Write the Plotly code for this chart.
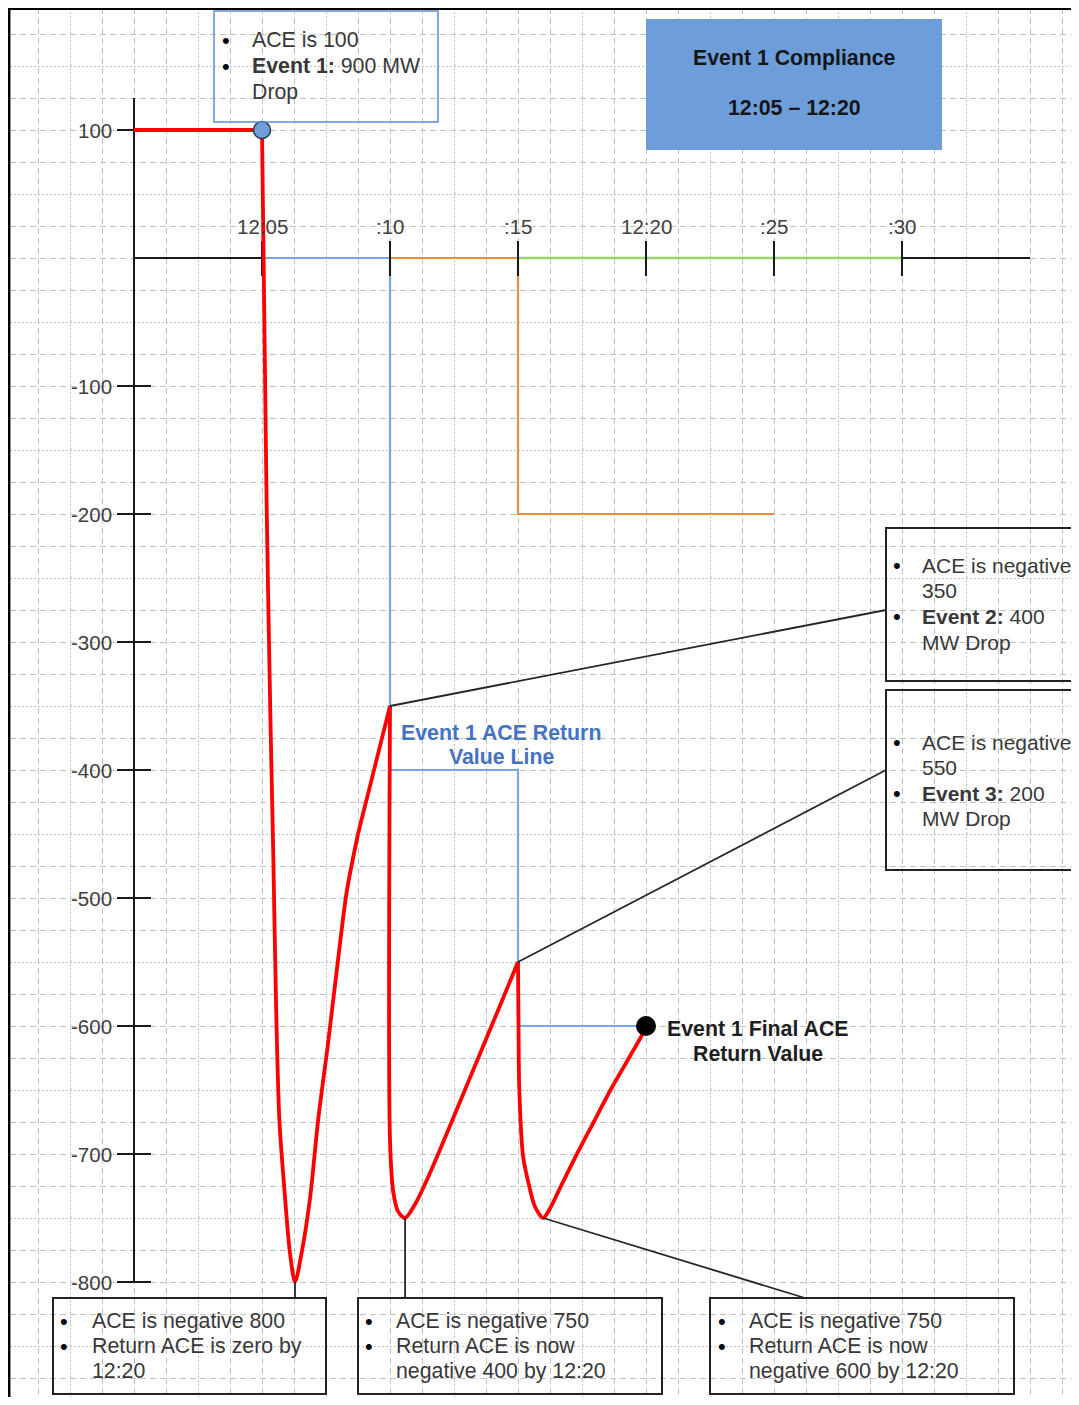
import plotly.graph_objects as go

# ---------------- data (minutes after 12:00, ACE in MW) ----------------
tick_minutes = [5, 10, 15, 20, 25, 30]
tick_labels = ["12:05", ":10", ":15", "12:20", ":25", ":30"]
y_tick_values = [100, -100, -200, -300, -400, -500, -600, -700, -800]

ace_flat_t = [0, 5]
ace_flat_v = [100, 100]

ace_dip1_t = [5.0, 5.18, 5.33, 5.44, 5.55, 5.68, 5.90, 6.09, 6.29, 6.55, 6.88, 7.19, 7.57, 7.93, 8.31, 8.75]
ace_dip1_v = [100, -191, -361, -465, -584, -674, -734, -777, -800, -777, -734, -674, -615, -555, -495, -450]

ace_kink_t = [8.75, 10]
ace_kink_v = [-450, -350]

ace_dip2_t = [10.0, 10.0, 10.13, 10.32, 10.59, 11.04, 11.69, 12.28, 12.80, 13.32, 13.84, 14.36, 15.0]
ace_dip2_v = [-350, -689, -730, -745, -750, -737, -709, -681, -656, -631, -606, -581, -550]

ace_dip3_t = [15.0, 15.02, 15.05, 15.20, 15.46, 15.66, 15.98, 16.24, 16.63, 17.25, 17.93, 18.64, 19.82, 20.0]
ace_dip3_v = [-550, -600, -649, -702, -727, -741, -750, -743, -727, -702, -676, -649, -608, -600]

return_line_t = [5, 10, 10, 15, 15, 20]
return_line_v = [0, 0, -400, -400, -600, -600]

event2_line_t = [10, 15, 15, 25]
event2_line_v = [0, 0, -200, -200]

event3_line_t = [15, 30]
event3_line_v = [0, 0]

axis_x_t = [0, 35]
axis_y_v = [125, -800]

# ---------------- geometry helpers ----------------
# the page body adds an 8px offset; all reference pixel positions are shifted by it
OFF = 8
W, H = 1079 - OFF, 1405 - 2 * OFF
ML, MT = 2, 0
X0PX, PXPERMIN = 134, 25.6
Y0PX, PXPERUNIT = 258, 1.28


def X(px):
    return (px - X0PX) / PXPERMIN


def Y(py):
    return (Y0PX - py) / PXPERUNIT


def PX(px):
    return (px - OFF - ML) / (W - ML)


def PY(py):
    return (H - (py - OFF)) / (H - MT)


FONT = "Liberation Sans, Arial, sans-serif"
TXT = "#383838"

fig = go.Figure()

# axis lines
fig.add_trace(go.Scatter(x=axis_x_t, y=[0, 0], mode="lines",
                         line=dict(color="#1a1a1a", width=2), hoverinfo="skip"))
fig.add_trace(go.Scatter(x=[0, 0], y=axis_y_v, mode="lines",
                         line=dict(color="#1a1a1a", width=2), hoverinfo="skip"))

# coloured compliance lines
fig.add_trace(go.Scatter(x=event3_line_t, y=event3_line_v, mode="lines",
                         line=dict(color="#9bd46a", width=2.5), hoverinfo="skip"))
fig.add_trace(go.Scatter(x=event2_line_t, y=event2_line_v, mode="lines",
                         line=dict(color="#ec8a42", width=2.2), hoverinfo="skip"))
fig.add_trace(go.Scatter(x=return_line_t, y=return_line_v, mode="lines",
                         line=dict(color="#7ba6e0", width=2.2), hoverinfo="skip"))

# tick marks
xt_x, xt_y = [], []
for m in tick_minutes:
    xt_x += [m, m, None]
    xt_y += [Y(241), Y(276), None]
fig.add_trace(go.Scatter(x=xt_x, y=xt_y, mode="lines",
                         line=dict(color="#1a1a1a", width=2), hoverinfo="skip"))
yt_x, yt_y = [], []
for v in y_tick_values:
    yt_x += [X(117), X(151), None]
    yt_y += [v, v, None]
fig.add_trace(go.Scatter(x=yt_x, y=yt_y, mode="lines",
                         line=dict(color="#1a1a1a", width=2), hoverinfo="skip"))

# ACE curve
red = dict(color="#ff0000", width=3.8)
fig.add_trace(go.Scatter(x=ace_flat_t, y=ace_flat_v, mode="lines", line=red, hoverinfo="skip"))
for tt, vv in [(ace_dip1_t, ace_dip1_v), (ace_dip2_t, ace_dip2_v), (ace_dip3_t, ace_dip3_v)]:
    fig.add_trace(go.Scatter(x=tt, y=vv, mode="lines",
                             line=dict(color="#ff0000", width=3.8, shape="spline", smoothing=0.8),
                             hoverinfo="skip"))
fig.add_trace(go.Scatter(x=ace_kink_t, y=ace_kink_v, mode="lines", line=red, hoverinfo="skip"))

# markers
fig.add_trace(go.Scatter(x=[ace_flat_t[-1]], y=[ace_flat_v[-1]], mode="markers",
                         marker=dict(size=17, color="#6f9ed9", line=dict(color="#2d3a55", width=1.5)),
                         hoverinfo="skip"))
fig.add_trace(go.Scatter(x=[ace_dip3_t[-1]], y=[ace_dip3_v[-1]], mode="markers",
                         marker=dict(size=20, color="#000000"), hoverinfo="skip"))

shapes = []
annotations = []

# frame
shapes.append(dict(type="line", xref="paper", yref="paper", x0=PX(9.2), x1=PX(9.2), y0=PY(8), y1=PY(1405),
                   line=dict(color="#000000", width=2.5)))
shapes.append(dict(type="line", xref="paper", yref="paper", x0=PX(8), x1=PX(1079), y0=PY(9), y1=PY(9),
                   line=dict(color="#000000", width=2.2)))

# boxes
def rect(x0, y0, x1, y1, color="#222222", width=2, fill=None):
    shapes.append(dict(type="rect", xref="x", yref="y", x0=X(x0), x1=X(x1), y0=Y(y0), y1=Y(y1),
                       line=dict(color=color, width=width),
                       fillcolor=fill if fill else "rgba(0,0,0,0)", layer="above"))

rect(214, 11, 438, 122, color="#5b8dd6", width=1.5)
rect(646, 19, 942, 150, color="#6d9eda", width=0, fill="#6d9eda")
rect(886, 528, 1100, 681)
rect(886, 690, 1100, 870)
rect(53, 1298, 326, 1394)
rect(358, 1298, 662, 1394)
rect(710, 1298, 1014, 1394)

# callout lines
def cline(x0, y0, x1, y1):
    shapes.append(dict(type="line", xref="x", yref="y", x0=x0, y0=y0, x1=x1, y1=y1,
                       line=dict(color="#262626", width=1.8), layer="above"))

cline(ace_kink_t[-1], ace_kink_v[-1], X(886), Y(610))
cline(ace_dip2_t[-1], ace_dip2_v[-1], X(886), Y(770))
i3 = ace_dip3_v.index(min(ace_dip3_v))
cline(ace_dip3_t[i3], ace_dip3_v[i3], X(805), Y(1298))
i2 = ace_dip2_v.index(min(ace_dip2_v))
cline(ace_dip2_t[i2], ace_dip2_v[i2], ace_dip2_t[i2], Y(1298))
i1 = ace_dip1_v.index(min(ace_dip1_v))
cline(ace_dip1_t[i1], ace_dip1_v[i1], ace_dip1_t[i1], Y(1298))


def text(px, py, s, size=21.3, color=TXT, anchor="left"):
    if anchor == "left":
        px -= 2
    annotations.append(dict(x=X(px), y=Y(py), xref="x", yref="y", text=s, showarrow=False,
                            xanchor=anchor, yanchor="middle",
                            font=dict(family=FONT, size=size, color=color)))


def bullets(bx, tx, lines, size=21.3):
    for py, s, b in lines:
        if b:
            text(bx, py, "•", size=22, color="#000000", anchor="center")
        text(tx, py, s, size=size)


bullets(226, 252, [(40, "ACE is 100", True),
                   (66, "<b>Event 1:</b> 900 MW", True),
                   (92, "Drop", False)])
bullets(897, 922, [(565, "ACE is negative", True),
                   (590, "350", False),
                   (616, "<b>Event 2:</b> 400", True),
                   (642, "MW Drop", False)], size=21)
bullets(897, 922, [(742, "ACE is negative", True),
                   (767, "550", False),
                   (793, "<b>Event 3:</b> 200", True),
                   (818, "MW Drop", False)], size=21)
bullets(64, 92, [(1321, "ACE is negative 800", True),
                 (1346, "Return ACE is zero by", True),
                 (1371, "12:20", False)])
bullets(369, 396, [(1321, "ACE is negative 750", True),
                   (1346, "Return ACE is now", True),
                   (1371, "negative 400 by 12:20", False)])
bullets(722, 749, [(1321, "ACE is negative 750", True),
                   (1346, "Return ACE is now", True),
                   (1371, "negative 600 by 12:20", False)])

BOLD = 21.3
text(794, 58, "<b>Event 1 Compliance</b>", size=BOLD, color="#161616", anchor="center")
text(794, 108, "<b>12:05 – 12:20</b>", size=BOLD, color="#161616", anchor="center")
text(501, 733, "<b>Event 1 ACE Return</b>", size=BOLD, color="#4472c4", anchor="center")
text(501, 757, "<b>Value Line</b>", size=BOLD, color="#4472c4", anchor="center")
text(757, 1029, "<b>Event 1 Final ACE</b>", size=BOLD, color="#1e1e1e", anchor="center")
text(758, 1054, "<b>Return Value</b>", size=BOLD, color="#1e1e1e", anchor="center")

# axis tick labels
for m, lab in zip(tick_minutes, tick_labels):
    annotations.append(dict(x=m, y=Y(226), xref="x", yref="y", text=lab, showarrow=False,
                            xanchor="center", yanchor="middle",
                            font=dict(family=FONT, size=20.5, color="#404040")))
for v in y_tick_values:
    annotations.append(dict(x=X(114), y=v, xref="x", yref="y", text=str(v), showarrow=False,
                            xanchor="right", yanchor="middle",
                            font=dict(family=FONT, size=20.5, color="#404040")))

GRID = "#c2c2c2"
fig.update_layout(
    width=W, height=H,
    margin=dict(l=ML, r=0, t=MT, b=0, pad=0),
    paper_bgcolor="white", plot_bgcolor="white",
    showlegend=False,
    shapes=shapes, annotations=annotations,
    xaxis=dict(range=[X(OFF + ML), X(OFF + W)], showgrid=True, tick0=2.5, dtick=5,
               gridcolor=GRID, griddash="2px,2px", gridwidth=1,
               minor=dict(showgrid=True, tick0=0, dtick=1.25, gridcolor=GRID,
                          griddash="6px,4px", gridwidth=1),
               showticklabels=False, ticks="", zeroline=False, showline=False, fixedrange=True),
    yaxis=dict(range=[Y(OFF + H), Y(OFF + MT)], showgrid=True, tick0=50, dtick=100,
               gridcolor=GRID, griddash="2px,2px", gridwidth=1,
               minor=dict(showgrid=True, tick0=0, dtick=25, gridcolor=GRID,
                          griddash="6px,4px", gridwidth=1),
               showticklabels=False, ticks="", zeroline=False, showline=False, fixedrange=True),
)

fig.write_html("out.html")
